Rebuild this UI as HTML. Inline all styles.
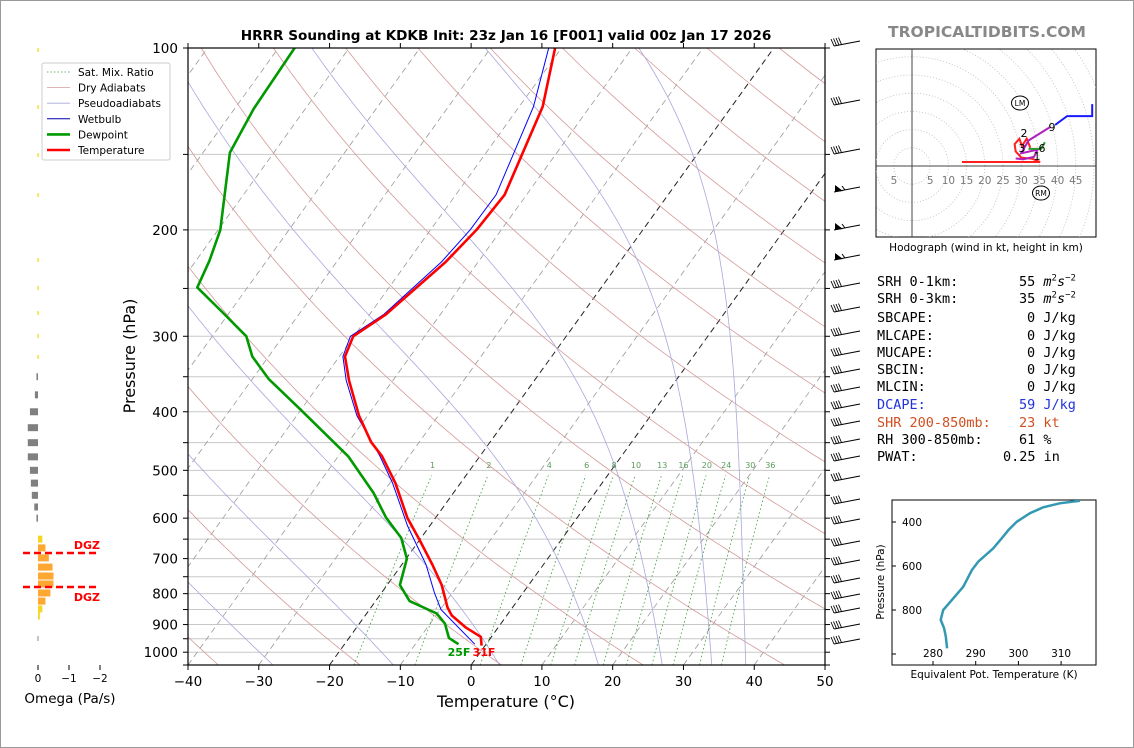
<!DOCTYPE html>
<html><head><meta charset="utf-8">
<style>
html,body{margin:0;padding:0;background:#fff;}
body{width:1134px;height:748px;overflow:hidden;position:relative;font-family:"DejaVu Sans","Liberation Sans",sans-serif;}
svg{position:absolute;left:0;top:0;}
text{font-family:"DejaVu Sans","Liberation Sans",sans-serif;}
.mono{font-family:"DejaVu Sans Mono","Liberation Mono",monospace;font-size:13.5px;}
</style></head>
<body>
<svg id="s" width="1134" height="748" viewBox="0 0 1134 748">
<rect x="0.5" y="0.5" width="1133" height="747" fill="#fff" stroke="#999"/>
<defs><clipPath id="cp"><rect x="188" y="48" width="637" height="617"/></clipPath>
<clipPath id="hc"><rect x="876" y="49" width="220" height="188"/></clipPath>
<clipPath id="tc"><rect x="892" y="500" width="204" height="165"/></clipPath></defs>
<g id="bg" clip-path="url(#cp)"></g>
<g id="marks" clip-path="url(#cp)"></g>
<g id="axes"></g>
<text x="506" y="40" text-anchor="middle" font-size="13.6" font-weight="bold">HRRR Sounding at KDKB Init: 23z Jan 16 [F001] valid 00z Jan 17 2026</text>
<text x="506" y="707" text-anchor="middle" font-size="16">Temperature (°C)</text>
<text transform="translate(135,356) rotate(-90)" text-anchor="middle" font-size="16">Pressure (hPa)</text>
<text x="987" y="37" text-anchor="middle" font-size="15.5" font-weight="bold" fill="#888">TROPICALTIDBITS.COM</text>
<g id="legend"></g>
<g id="omega"></g>
<g id="barbs"></g>
<g id="hodo"></g>
<g id="the"></g>
</svg>
<div id="txt"></div>
<script>
// ---- Sounding data ----
const tempP=[975,943,911,869,843,774,716,652,599,525,474,449,406,355,324,300,276,226,200,175,125,100];
const tempT=[-0.5,-1.5,-4.5,-7.8,-9.2,-12.3,-15.7,-20.0,-24.0,-29.2,-33.8,-36.8,-41.2,-46.2,-49.2,-50.1,-47.7,-44.6,-43.5,-43.1,-46.7,-50.9];
const dewP=[970,947,897,863,823,774,700,647,599,545,474,396,353,324,300,273,249,225,200,149,126,100];
const dewT=[-3.9,-5.9,-7.9,-10.1,-15.2,-18.2,-19.9,-22.8,-27.0,-31.3,-38.6,-50.2,-57.7,-62.3,-65.2,-71.2,-77.1,-78.1,-79.7,-86.2,-87.3,-87.7];
const wbP=[970,850,798,716,617,525,474,406,355,324,300,276,226,200,175,125,100];
const wbT=[-1.6,-9.9,-12.5,-16.6,-23.2,-29.6,-34.1,-41.5,-46.6,-49.5,-50.5,-48.0,-45.2,-44.4,-44.3,-48.0,-51.8];
const pTicks=[100,200,300,400,500,600,700,800,900,1000];
const tTicks=[-40,-30,-20,-10,0,10,20,30,40,50];
const mixVals=[1,2,4,6,8,10,13,16,20,24,30,36];
const barbY=[45,104,153,191,229,259,287,311,335,355,373,391,408,425,443,460,480,503,523,545,564,582,598,612,628,643];
const barbFlag=[0,0,0,1,1,1,0,0,0,0,0,0,0,0,0,0,0,0,0,0,0,0,0,0,0,0];
// omega
const omegaP=[350,375,400,425,450,475,500,525,550,575,600,650,672,698,723,748,771,798,823,848,871];
const omegaV=[0.05,0.1,0.26,0.33,0.33,0.33,0.26,0.23,0.2,0.12,0.05,-0.14,-0.24,-0.35,-0.47,-0.5,-0.5,-0.4,-0.24,-0.14,-0.06];
// hodograph (kt)
const hRedU=[13.7,35.2,33,30,28.5,28.2,29.5,30.2,31.5,32.5];
const hRedV=[1.1,1.1,2,2.3,4,6,7.5,5.5,7.5,5];
const hPurU=[28.5,30.5,33.5,34.5,30,32,37.9];
const hPurV=[2.1,1.8,2.5,4.5,3.5,7,10.7];
const hGrnU=[32,35.5,36.5];
const hGrnV=[4.7,4.7,6.5];
const hBluU=[39.3,42.6,49.5,49.5];
const hBluV=[11.3,13.7,13.7,17];
// theta-e
const teP=[974,921,883,845,800,755,694,618,580,520,474,436,399,360,333,315,303];
const teV=[283.3,283.0,282.6,281.8,282.4,284.4,287.1,289.1,290.6,294.1,296.1,297.7,299.6,302.7,305.8,309.7,314.4];

const NS='http://www.w3.org/2000/svg';
function mk(par,tag,at){const e=document.createElementNS(NS,tag);for(const k in at)e.setAttribute(k,at[k]);par.appendChild(e);return e;}
const L=Math.log(10.5);
function yP(p){return 48+617*Math.log(p/100)/L;}
function xT(T,p){return 188+(T+40)*7.078+0.72*(665-yP(p));}
function path(ps,ts){return ps.map((p,i)=>(i?'L':'M')+xT(ts[i],p).toFixed(1)+','+yP(p).toFixed(1)).join('');}
const bg=document.getElementById('bg'),mg=document.getElementById('marks'),ax=document.getElementById('axes');
// isobars
for(let p=100;p<=1050;p+=50){let e=mk(bg,'line',{x1:188,x2:825,y1:yP(p),y2:yP(p),stroke:'#c8c8c8','stroke-width':1});

}
// isotherms
for(let T=-160;T<=50;T+=10){const blk=(T===-20||T===0);let e=mk(bg,'line',{x1:xT(T,1050),y1:yP(1050),x2:xT(T,100),y2:yP(100),stroke:blk?'#222':'#999','stroke-width':blk?1:0.8,'stroke-dasharray':'6,4'});

}
// dry adiabats
for(let T0=-115.7;T0<=250;T0+=20){const th=(T0+273.15)*Math.pow(1000/1050,0.286);let d='';for(let p=1050;p>=100;p-=10){const T=th*Math.pow(p/1000,0.286)-273.15;d+=(p===1050?'M':'L')+xT(T,p).toFixed(1)+','+yP(p).toFixed(1);}
let e=mk(bg,'path',{d:d,fill:'none',stroke:'#d49a9a','stroke-width':0.8});

}
// moist adiabats
function es(tc){return 6.112*Math.exp(17.67*tc/(tc+243.5));}
for(const T0 of [-45,-28,-11,4,18,27,34,38.8]){let T=T0+273.15,d='M'+xT(T0,1050).toFixed(1)+','+yP(1050).toFixed(1);
for(let p=1050;p>100;p-=5){const e_=es(T-273.15),rs=0.622*e_/(p-e_);const dT=(287*T+2.5e6*rs)/(p*(1005+2.5e6*2.5e6*rs*0.622/(287*T*T)));T-=dT*5;d+='L'+xT(T-273.15,p-5).toFixed(1)+','+yP(p-5).toFixed(1);}
let e=mk(bg,'path',{d:d,fill:'none',stroke:'#a8a8dc','stroke-width':0.8});

}
// mixing ratio lines
function tdw(w,p){const e=w*p/(622+w),l=Math.log(e/6.112);return 243.5*l/(17.67-l);}
for(const w of mixVals){let d='';for(let p=1050;p>=510;p-=10)d+=(p===1050?'M':'L')+xT(tdw(w,p),p).toFixed(1)+','+yP(p).toFixed(1);
let e=mk(bg,'path',{d:d,fill:'none',stroke:'#3a9a3a','stroke-width':0.8,'stroke-dasharray':'1.5,2.5'});


let t=mk(bg,'text',{x:xT(tdw(w,505),505),y:468,'font-size':8,fill:'#5a9a5a','text-anchor':'middle'});t.textContent=w;

}
// profiles
let e1=mk(mg,'path',{d:path(dewP,dewT),fill:'none',stroke:'#009900','stroke-width':2.6,'stroke-linejoin':'round'});


let e2=mk(mg,'path',{d:path(wbP,wbT),fill:'none',stroke:'#0000ff','stroke-width':1});


let e3=mk(mg,'path',{d:path(tempP,tempT),fill:'none',stroke:'#ff0000','stroke-width':2.6,'stroke-linejoin':'round'});


let s1=mk(mg,'text',{x:459,y:656,'font-size':11,'font-weight':'bold',fill:'#009900','text-anchor':'middle'});s1.textContent='25F';


let s2=mk(mg,'text',{x:484,y:656,'font-size':11,'font-weight':'bold',fill:'#ff0000','text-anchor':'middle'});s2.textContent='31F';


// axes frame
mk(ax,'rect',{x:188,y:48,width:637,height:617,fill:'none',stroke:'#000','stroke-width':1.2});
for(const T of tTicks){const x=188+(T+40)*7.078;mk(ax,'line',{x1:x,x2:x,y1:665,y2:670,stroke:'#000'});mk(ax,'line',{x1:x,x2:x,y1:48,y2:43,stroke:'#000'});
let t=mk(ax,'text',{x:x,y:686,'font-size':13.5,'text-anchor':'middle'});t.textContent=T<0?'\u2212'+(-T):T;

}
for(let p=100;p<=1050;p+=50){const y=yP(p);mk(ax,'line',{x1:183,x2:188,y1:y,y2:y,stroke:'#000'});mk(ax,'line',{x1:825,x2:830,y1:y,y2:y,stroke:'#000'});}
for(const p of pTicks){let t=mk(ax,'text',{x:178,y:yP(p)+5,'font-size':13.5,'text-anchor':'end'});t.textContent=p;

}
// legend
const lg=document.getElementById('legend');
mk(lg,'rect',{x:42,y:63,width:128,height:97,fill:'#fff',stroke:'#ccc',rx:2});
const le=[['Sat. Mix. Ratio','#3a9a3a',0.8,'1.5,2'],['Dry Adiabats','#d49a9a',0.8,''],['Pseudoadiabats','#a8a8dc',0.8,''],['Wetbulb','#0000aa',1,''],['Dewpoint','#009900',2.6,''],['Temperature','#ff0000',2.6,'']];
le.forEach((r,i)=>{const y=72+i*15.6;mk(lg,'line',{x1:47,x2:70,y1:y,y2:y,stroke:r[1],'stroke-width':r[2],'stroke-dasharray':r[3]||'none'});
let t=mk(lg,'text',{x:78,y:y+4,'font-size':10.5});t.textContent=r[0];

});
// omega panel
const om=document.getElementById('omega');
function ox(v){return 38-v*31;}
for(const y of [50,107,155,195,260,288,313,336,357]){mk(om,'rect',{x:37.5,y:y-2,width:1.2,height:4,fill:'#f2dc00'});}
mk(om,'rect',{x:37.5,y:636,width:1,height:5,fill:'#888'});
omegaP.forEach((p,i)=>{const v=omegaV[i],y=yP(p);const x0=Math.min(ox(0),ox(v)),w=Math.abs(ox(v)-ox(0));
const c=v>0?'#808080':(Math.abs(v)>0.2?'#ffa733':'#f5d622');
let r=mk(om,'rect',{x:x0,y:y-3.5,width:Math.max(w,1),height:7,fill:c});

});
mk(om,'line',{x1:23,x2:98,y1:553,y2:553,stroke:'#f00','stroke-width':2.5,'stroke-dasharray':'7,4'});
mk(om,'line',{x1:23,x2:98,y1:587,y2:587,stroke:'#f00','stroke-width':2.5,'stroke-dasharray':'7,4'});
[['DGZ',549],['DGZ',601]].forEach(d=>{let t=mk(om,'text',{x:100,y:d[1],'font-size':11,'font-weight':'bold',fill:'#f00','text-anchor':'end'});t.textContent=d[0];

});
[[0,'0'],[-1,'\u22121'],[-2,'\u22122']].forEach(d=>{const x=ox(d[0]);mk(om,'line',{x1:x,x2:x,y1:665,y2:670,stroke:'#000'});let t=mk(om,'text',{x:x,y:682,'font-size':10.5,'text-anchor':'middle'});t.textContent=d[1];

});
let ot=mk(om,'text',{x:70,y:703,'font-size':13.5,'text-anchor':'middle'});ot.textContent='Omega (Pa/s)';


// wind barbs
const bb=document.getElementById('barbs');
barbY.forEach((y,i)=>{const g=mk(bb,'g',{});


mk(g,'line',{x1:834,y1:y+1,x2:860,y2:y-4,stroke:'#000','stroke-width':1});
if(barbFlag[i]){mk(g,'path',{d:`M835,${y-6}L835,${y+1}L843,${y}Z`,fill:'#000'});mk(g,'line',{x1:845,y1:y-1,x2:842,y2:y-5,stroke:'#000'});}
else{for(let k=0;k<4;k++){const x=834+k*2.5;mk(g,'line',{x1:x,y1:y+1-k*0.5,x2:x-3,y2:y-6-k*0.5,stroke:'#000','stroke-width':0.9});}}});
// hodograph
const hg=document.getElementById('hodo');
const hx=u=>912+u*3.64,hy=v=>166-v*3.64;
mk(hg,'rect',{x:876,y:49,width:220,height:188,fill:'#fff',stroke:'#000'});
const hi=mk(hg,'g',{'clip-path':'url(#hc)'});
for(let r=5;r<=90;r+=5)mk(hi,'circle',{cx:hx(0),cy:hy(0),r:r*3.64,fill:'none',stroke:'#bbb','stroke-width':0.8,'stroke-dasharray':'1,2'});
mk(hi,'line',{x1:876,x2:1096,y1:hy(0),y2:hy(0),stroke:'#444'});mk(hi,'line',{x1:hx(0),x2:hx(0),y1:49,y2:237,stroke:'#444'});
[5,10,15,20,25,30,35,40,45].forEach(k=>{let t=mk(hi,'text',{x:hx(k),y:184,'font-size':10.5,fill:'#777','text-anchor':'middle'});t.textContent=k;

});
let t5=mk(hi,'text',{x:894,y:184,'font-size':10.5,fill:'#777','text-anchor':'middle'});t5.textContent='5';
function hp(us,vs){return us.map((u,i)=>(i?'L':'M')+hx(u).toFixed(1)+','+hy(vs[i]).toFixed(1)).join('');}
[[hRedU,hRedV,'#ff2020','hodo-0-1km'],[hPurU,hPurV,'#b020c0','hodo-3-9km'],[hGrnU,hGrnV,'#2a9a2a','hodo-6km'],[hBluU,hBluV,'#1a1aff','hodo-upper']].forEach(s=>{let e=mk(hi,'path',{d:hp(s[0],s[1]),fill:'none',stroke:s[2],'stroke-width':2});

});
[['2',1024,137],['3',1022,152],['6',1042,152],['1',1037,160],['9',1052,131]].forEach(d=>{let t=mk(hi,'text',{x:d[1],y:d[2],'font-size':11,'text-anchor':'middle'});t.textContent=d[0];});
[['LM',1020,103],['RM',1041,193]].forEach(d=>{mk(hi,'ellipse',{cx:d[1],cy:d[2],rx:8.5,ry:7,fill:'#fff',stroke:'#000'});let t=mk(hi,'text',{x:d[1],y:d[2]+3,'font-size':7.5,'text-anchor':'middle'});t.textContent=d[0];});
let hcap=mk(hg,'text',{x:986,y:251,'font-size':10.5,'text-anchor':'middle'});hcap.textContent='Hodograph (wind in kt, height in km)';


// theta-e panel
const tg=document.getElementById('the');
const tx=v=>933+(v-280)*4.27,ty=p=>522+(p-400)*0.22;
mk(tg,'rect',{x:892,y:500,width:204,height:165,fill:'#fff',stroke:'#000'});
let tl=mk(tg,'path',{d:teP.map((p,i)=>(i?'L':'M')+tx(teV[i]).toFixed(1)+','+ty(p).toFixed(1)).join(''),fill:'none',stroke:'#3399b3','stroke-width':2.5,'clip-path':'url(#tc)'});


[400,600,800,1000].forEach(p=>{mk(tg,'line',{x1:892,x2:896,y1:ty(p),y2:ty(p),stroke:'#000'});if(p<1000){let t=mk(tg,'text',{x:922,y:ty(p)+4,'font-size':10.5,'text-anchor':'end'});t.textContent=p;}});
[280,290,300,310].forEach(v=>{mk(tg,'line',{x1:tx(v),x2:tx(v),y1:665,y2:661,stroke:'#000'});let t=mk(tg,'text',{x:tx(v),y:657,'font-size':10.5,'text-anchor':'middle'});t.textContent=v;

});
let tt=mk(tg,'text',{x:994,y:678,'font-size':10.5,'text-anchor':'middle'});tt.textContent='Equivalent Pot. Temperature (K)';
let ty2=mk(tg,'text',{transform:'translate(884,582) rotate(-90)','font-size':10.5,'text-anchor':'middle'});ty2.textContent='Pressure (hPa)';
// indices text
const rows=[['SRH 0-1km:','55',1019,' <i>m</i><sup>2</sup><i>s</i><sup>\u22122</sup>','#000'],['SRH 0-3km:','35',1019,' <i>m</i><sup>2</sup><i>s</i><sup>\u22122</sup>','#000'],['SBCAPE:','0',1027,' J/kg','#000'],['MLCAPE:','0',1027,' J/kg','#000'],['MUCAPE:','0',1027,' J/kg','#000'],['SBCIN:','0',1027,' J/kg','#000'],['MLCIN:','0',1027,' J/kg','#000'],['DCAPE:','59',1019,' J/kg','#2233dd'],['SHR 200-850mb:','23',1019,' kt','#d05020'],['RH 300-850mb:','61',1019,' %','#000'],['PWAT:','0.25',1003,' in','#000']];
const ys=[282,299,318,336,353,370,387,405,423,440,457];
const box=document.getElementById('txt');
rows.forEach((r,i)=>{const d=document.createElement('div');d.className='mono';d.style.cssText=`position:absolute;left:877px;top:${ys[i]-9}px;color:${r[4]};white-space:nowrap;line-height:18px;`;d.textContent=r[0];


box.appendChild(d);
const v=document.createElement('div');v.className='mono';v.style.cssText=`position:absolute;left:${r[2]}px;top:${ys[i]-9}px;color:${r[4]};white-space:nowrap;line-height:18px;`;v.innerHTML=r[1]+r[3].replace(/<sup>/g,'<sup style="font-size:9px;line-height:0">');


box.appendChild(v);});
</script>
</body></html>
